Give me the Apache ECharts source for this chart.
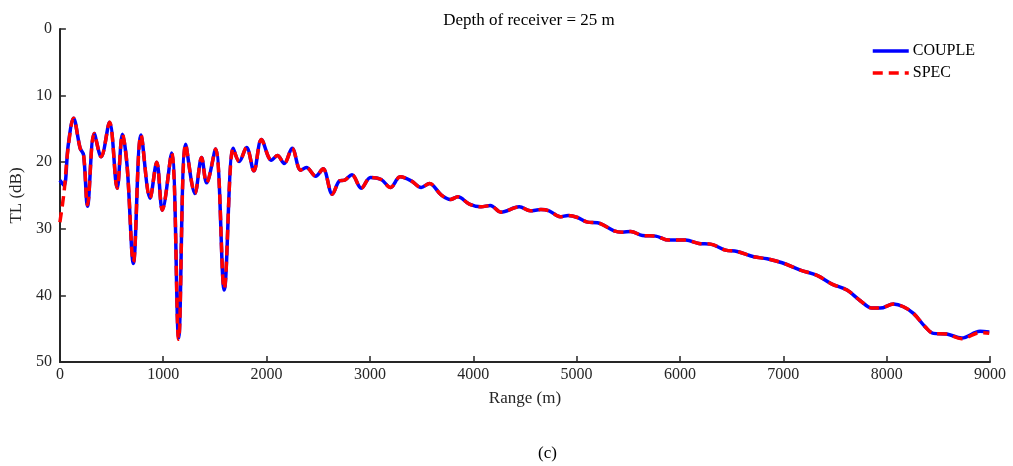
<!DOCTYPE html>
<html>
<head>
<meta charset="utf-8">
<script src="https://cdn.jsdelivr.net/npm/echarts@6/dist/echarts.min.js"></script>
<style>
  html, body { margin: 0; padding: 0; background: #fff; }
  #chart { width: 1013px; height: 466px; }
</style>
</head>
<body>
<div id="chart"></div>
<script>
// range (m) and transmission loss (dB)
const coupleRange = [0, 40, 80, 132, 196, 229, 267, 332, 399, 480, 554, 605, 650, 711, 785, 872, 937, 991,
  1081, 1149, 1217, 1307, 1371, 1419, 1506, 1590, 1677, 1735, 1806, 1877, 1950, 2047, 2105, 2170, 2247,
  2330, 2385, 2475, 2546, 2636, 2707, 2755, 2826, 2916, 3006, 3109, 3199, 3293, 3399, 3496, 3576, 3689,
  3779, 3850, 3962, 4075, 4165, 4268, 4445, 4551, 4654, 4734, 4841, 4918, 5009, 5105, 5202, 5362, 5443,
  5523, 5636, 5765, 5893, 6055, 6183, 6296, 6441, 6553, 6714, 6843, 6988, 7165, 7326, 7471, 7616, 7745,
  7857, 7937, 8066, 8162, 8259, 8372, 8452, 8581, 8726, 8903, 8993];
const coupleTL = [22.7, 23.5, 17.5, 13.4, 17.9, 18.9, 26.6, 15.7, 19.2, 14.0, 23.9, 15.8, 20.5, 35.2, 15.9, 25.4, 20.0, 27.2,
  18.6, 46.4, 17.3, 24.7, 19.3, 23.1, 18.0, 39.2, 17.9, 19.9, 17.8, 21.3, 16.6, 19.7, 19.0, 20.2, 17.9,
  21.2, 20.8, 22.1, 21.0, 24.8, 22.8, 22.7, 21.9, 23.9, 22.3, 22.6, 23.8, 22.2, 22.8, 23.8, 23.2, 24.9,
  25.6, 25.2, 26.3, 26.7, 26.5, 27.5, 26.7, 27.3, 27.1, 27.3, 28.2, 28.0, 28.3, 29.0, 29.1, 30.3, 30.5,
  30.4, 31.0, 31.1, 31.7, 31.7, 32.2, 32.3, 33.2, 33.4, 34.2, 34.5, 35.1, 36.2, 37.0, 38.3, 39.2, 40.8,
  41.9, 41.9, 41.3, 41.7, 42.7, 44.7, 45.7, 45.8, 46.4, 45.4, 45.5];
const specRange = coupleRange;
const specTL = [29.0, 24.5, 17.8, 13.4, 17.9, 18.9, 26.4, 15.7, 19.2, 14.0, 23.9, 15.8, 20.5, 35.0, 15.9, 25.4, 20.0, 27.2,
  18.6, 46.6, 17.3, 24.7, 19.3, 23.1, 18.0, 39.0, 17.9, 19.9, 17.8, 21.3, 16.6, 19.7, 19.0, 20.2, 17.9,
  21.2, 20.8, 22.1, 21.0, 24.8, 22.8, 22.7, 21.9, 23.9, 22.3, 22.6, 23.8, 22.2, 22.8, 23.8, 23.2, 24.9,
  25.6, 25.2, 26.3, 26.7, 26.5, 27.5, 26.7, 27.3, 27.1, 27.3, 28.2, 28.0, 28.3, 29.0, 29.1, 30.3, 30.5,
  30.4, 31.0, 31.1, 31.7, 31.7, 32.2, 32.3, 33.2, 33.4, 34.2, 34.5, 35.1, 36.2, 37.0, 38.3, 39.2, 40.8,
  41.9, 41.9, 41.3, 41.7, 42.7, 44.7, 45.7, 45.8, 46.5, 45.6, 45.7];

const font = 'Liberation Serif';
const ink = '#262626';

const chart = echarts.init(document.getElementById('chart'));
chart.setOption({
  animation: false,
  textStyle: { fontFamily: font },
  title: {
    text: 'Depth of receiver = 25 m',
    left: 524, top: 7, textAlign: 'center',
    textStyle: { fontFamily: font, fontSize: 17, fontWeight: 'normal', color: '#000' }
  },
  graphic: [{
    type: 'text', left: 538, top: 445,
    style: { text: '(c)', font: '17px "Liberation Serif"', fill: '#000' }
  }],
  legend: {
    left: 866, top: 38, orient: 'vertical', align: 'left', itemGap: 6,
    itemWidth: 36, itemHeight: 14,
    itemStyle: { opacity: 0 },
    lineStyle: { width: 3.5 },
    textStyle: { fontFamily: font, fontSize: 16, color: '#000', padding: [0, 0, 0, -1] },
    data: ['COUPLE', 'SPEC']
  },
  grid: { left: 58, right: 23, top: 29, bottom: 104 },
  xAxis: {
    type: 'value', min: 0, max: 9000, interval: 1000, position: 'bottom',
    name: 'Range (m)', nameLocation: 'middle', nameGap: 28,
    nameTextStyle: { fontFamily: font, fontSize: 17, color: ink },
    axisLine: { onZero: false, lineStyle: { color: ink, width: 2 } },
    axisTick: { inside: true, length: 6, lineStyle: { color: ink, width: 1.5 } },
    axisLabel: { fontFamily: font, fontSize: 16, color: ink, margin: 5, formatter: v => String(v) },
    splitLine: { show: false }
  },
  yAxis: {
    type: 'value', min: 0, max: 50, interval: 10, inverse: true,
    name: 'TL (dB)', nameLocation: 'middle', nameGap: 27,
    nameTextStyle: { fontFamily: font, fontSize: 17, color: ink },
    axisLine: { show: true, onZero: false, lineStyle: { color: ink, width: 2 } },
    axisTick: { show: true, inside: true, length: 6, lineStyle: { color: ink, width: 1.5 } },
    axisLabel: { fontFamily: font, fontSize: 16, color: ink, margin: 8 },
    splitLine: { show: false }
  },
  series: [
    {
      name: 'COUPLE', type: 'line', showSymbol: false, symbol: 'none', smooth: 0.35,
      data: coupleRange.map((r, i) => [r, coupleTL[i]]),
      lineStyle: { color: '#0000ff', width: 3.5 },
      itemStyle: { color: '#0000ff' }
    },
    {
      name: 'SPEC', type: 'line', showSymbol: false, symbol: 'none', smooth: 0.35,
      data: specRange.map((r, i) => [r, specTL[i]]),
      lineStyle: { color: '#ff0000', width: 3.5, type: [10, 6] },
      itemStyle: { color: '#ff0000' }
    }
  ]
});
</script>
</body>
</html>
